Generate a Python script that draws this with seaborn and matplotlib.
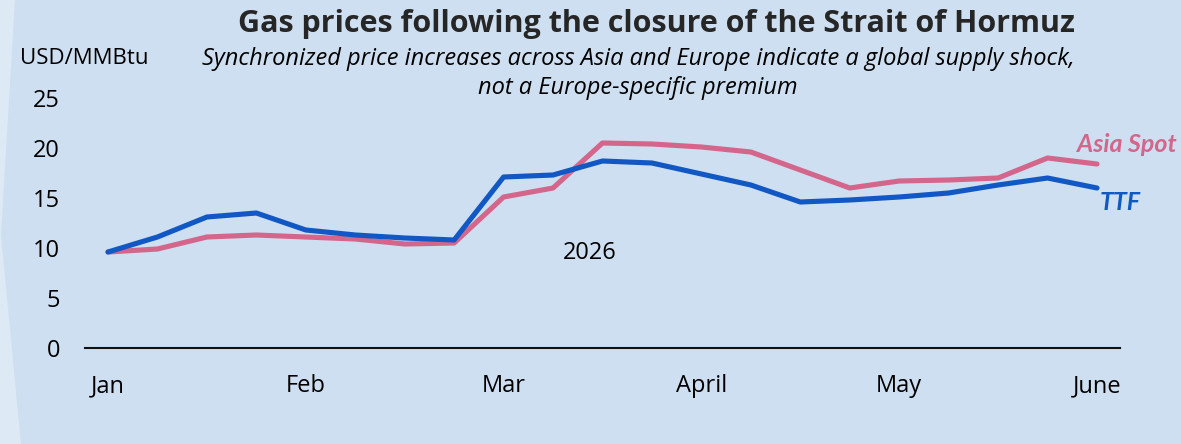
import numpy as np
import pandas as pd
import matplotlib
matplotlib.use("Agg")
import matplotlib.pyplot as plt
from matplotlib.patches import Polygon
import seaborn as sns

# Weekly gas prices, USD/MMBtu (Jan through June 2026)
week_index = list(range(21))
ttf = [9.6, 11.1, 13.1, 13.5, 11.8, 11.3, 11.0, 10.8,
       17.1, 17.3, 18.7, 18.5, 17.4, 16.3, 14.6, 14.8,
       15.1, 15.5, 16.3, 17.0, 16.0]
asia_spot = [9.6, 9.9, 11.1, 11.3, 11.1, 10.9, 10.4, 10.5,
             15.1, 16.0, 20.5, 20.4, 20.1, 19.6, 17.8, 16.0,
             16.7, 16.8, 17.0, 19.0, 18.4]
month_labels = ["Jan", "Feb", "Mar", "April", "May", "June"]
month_positions = [0, 4, 8, 12, 16, 20]
y_ticks = [0, 5, 10, 15, 20, 25]

series_names = ["Asia Spot", "TTF"]
df = pd.DataFrame({
    "week": week_index * 2,
    "price": asia_spot + ttf,
    "series": ["Asia Spot"] * len(asia_spot) + ["TTF"] * len(ttf),
})

PANEL = "#cddff0"
OUTSIDE = "#dde9f5"
BLUE = "#1258c4"
PINK = "#d4668c"
TEXT = "#000000"

sns.set_theme(style="white")
plt.rcParams["font.family"] = ["Open Sans", "DejaVu Sans"]

W, H = 1181, 444
fig = plt.figure(figsize=(W / 100, H / 100), dpi=100)
fig.patch.set_facecolor(OUTSIDE)

# panel shape with a slightly angled left edge
panel_px = [(15, 0), (1, 235), (21, 444), (W, 444), (W, 0)]
panel = Polygon([(x / W, 1 - y / H) for x, y in panel_px], closed=True,
                transform=fig.transFigure, facecolor=PANEL, edgecolor="none",
                zorder=-10)
fig.patches.append(panel)

ax = fig.add_axes([85 / W, 1 - 348 / H, 1035 / W, 250 / H])
ax.set_facecolor("none")
ax.set_zorder(1)

sns.lineplot(data=df, x="week", y="price", hue="series",
             palette={"Asia Spot": PINK, "TTF": BLUE},
             hue_order=series_names, linewidth=3.7, ax=ax, legend=False)
for ln in ax.get_lines():
    ln.set_solid_capstyle("round")
    ln.set_solid_joinstyle("round")

ax.set_xlim(-0.465, 20.465)
ax.set_ylim(0, 25)
ax.set_xticks(month_positions)
ax.set_xticklabels(month_labels)
ax.set_yticks(y_ticks)
ax.set_yticklabels([str(v) for v in y_ticks])
ax.tick_params(axis="x", length=0, pad=19, labelsize=17, colors=TEXT)
ax.tick_params(axis="y", length=0, pad=18, labelsize=17, colors=TEXT)
ax.set_xlabel("")
ax.set_ylabel("")
for side in ["top", "right", "left"]:
    ax.spines[side].set_visible(False)
ax.spines["bottom"].set_color("#111111")
ax.spines["bottom"].set_linewidth(1.5)

# year label inside the plot
ax.text(9.75, 9.5, "2026", ha="center", va="center", fontsize=17, color=TEXT)

# series labels at the line ends
ax.text(19.6, 20.4, "Asia Spot", ha="left", va="center", fontsize=18,
        color=PINK, fontweight="bold", fontstyle="italic",
        family=["Lato", "DejaVu Sans"], clip_on=False)
ax.text(20.06, 14.5, "TTF", ha="left", va="center", fontsize=18,
        color=BLUE, fontweight="bold", fontstyle="italic",
        family=["Lato", "DejaVu Sans"], clip_on=False)

fig.text(656 / W, 1 - 24 / H, "Gas prices following the closure of the Strait of Hormuz",
         ha="center", va="center", fontsize=22, fontweight="bold", color="#262626")
fig.text(638 / W, 1 - 59 / H,
         "Synchronized price increases across Asia and Europe indicate a global supply shock,",
         ha="center", va="center", fontsize=17, fontstyle="italic", color=TEXT)
fig.text(638 / W, 1 - 88 / H, "not a Europe-specific premium",
         ha="center", va="center", fontsize=17, fontstyle="italic", color=TEXT)
fig.text(20 / W, 1 - 58 / H, "USD/MMBtu", ha="left", va="center",
         fontsize=16, color=TEXT)

fig.savefig("out.png", dpi=100, facecolor=fig.get_facecolor())
